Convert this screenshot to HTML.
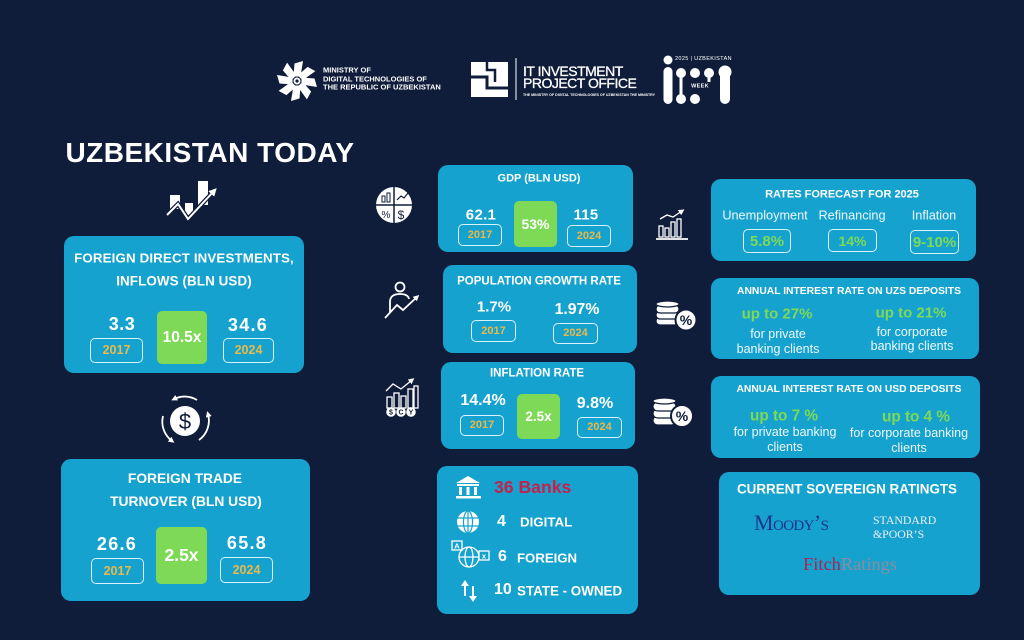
<!DOCTYPE html>
<html><head><meta charset="utf-8">
<style>
html,body{margin:0;padding:0}
body{width:1024px;height:640px;overflow:hidden;background:#0f1c3a;position:relative;font-family:"Liberation Sans",sans-serif}
.card{position:absolute;background:#16a2ce;border-radius:10px}
.c{position:absolute;transform:translate(-50%,-50%);line-height:1;white-space:nowrap;font-weight:700;color:#fff}
.l{position:absolute;transform:translateY(-50%);line-height:1;white-space:nowrap;font-weight:700;color:#fff}
.r{font-weight:400;color:#eef8fc}
.yb{position:absolute;box-sizing:border-box;border:1.2px solid #d9f1fa;border-radius:5px;color:#e8ba4b;font-weight:700;display:flex;align-items:center;justify-content:center;line-height:1}
.gb{position:absolute;background:#7ed957;border-radius:5px;color:#fff;font-weight:700;display:flex;align-items:center;justify-content:center;line-height:1}
.gt{color:#7ed957}
svg{position:absolute;left:0;top:0}
</style></head><body>

<!-- cards -->
<div class="card" style="left:64px;top:236px;width:240px;height:137px"></div>
<div class="card" style="left:61px;top:459px;width:249px;height:142px"></div>
<div class="card" style="left:438px;top:165px;width:195px;height:87px"></div>
<div class="card" style="left:443px;top:265px;width:194px;height:88px"></div>
<div class="card" style="left:441px;top:362px;width:194px;height:87px"></div>
<div class="card" style="left:437px;top:466px;width:201px;height:148px"></div>
<div class="card" style="left:711px;top:179px;width:265px;height:82px"></div>
<div class="card" style="left:711px;top:278px;width:268px;height:81px"></div>
<div class="card" style="left:711px;top:376px;width:269px;height:82px"></div>
<div class="card" style="left:719px;top:472px;width:261px;height:123px"></div>

<svg width="1024" height="640" viewBox="0 0 1024 640">
<defs>
<marker id="ah" markerWidth="6" markerHeight="6" refX="3" refY="3" orient="auto" markerUnits="userSpaceOnUse"><path d="M0,0 L6,3 L0,6 Z" fill="#fff"/></marker>
<marker id="ah2" markerWidth="8" markerHeight="8" refX="4" refY="4" orient="auto" markerUnits="userSpaceOnUse"><path d="M0,0 L8,4 L0,8 Z" fill="#fff"/></marker>
</defs>
<!-- ministry logo -->
<g transform="translate(297,81)" fill="#fff">
<path d="M-3.5,-4.5 L3.5,-4.5 L6,-20 L-2.5,-17.5 Z"/>
<path d="M-3.5,-4.5 L3.5,-4.5 L6,-20 L-2.5,-17.5 Z" transform="rotate(45)"/>
<path d="M-3.5,-4.5 L3.5,-4.5 L6,-20 L-2.5,-17.5 Z" transform="rotate(90)"/>
<path d="M-3.5,-4.5 L3.5,-4.5 L6,-20 L-2.5,-17.5 Z" transform="rotate(135)"/>
<path d="M-3.5,-4.5 L3.5,-4.5 L6,-20 L-2.5,-17.5 Z" transform="rotate(180)"/>
<path d="M-3.5,-4.5 L3.5,-4.5 L6,-20 L-2.5,-17.5 Z" transform="rotate(225)"/>
<path d="M-3.5,-4.5 L3.5,-4.5 L6,-20 L-2.5,-17.5 Z" transform="rotate(270)"/>
<path d="M-3.5,-4.5 L3.5,-4.5 L6,-20 L-2.5,-17.5 Z" transform="rotate(315)"/>
<circle r="3.5" fill="#fff"/><circle r="1.6" fill="#0f1c3a"/>
</g>
<!-- IT IPO logo -->
<rect x="471" y="62" width="37" height="35" fill="#fff"/>
<polyline points="471,77 487,77 487,88 508,88" fill="none" stroke="#0f1c3a" stroke-width="3"/>
<polyline points="487,62 487,70 495,70 495,82" fill="none" stroke="#0f1c3a" stroke-width="2.5"/>
<line x1="516" y1="58" x2="516" y2="100" stroke="#fff" stroke-width="1"/>
<!-- IT week logo -->
<g fill="#fff">
<circle cx="668" cy="60" r="4.5"/>
<rect x="663.5" y="67" width="9" height="37" rx="4.5"/>
<circle cx="681" cy="73" r="5"/>
<circle cx="681" cy="99" r="5"/>
<rect x="679.5" y="73" width="3" height="26"/>
<circle cx="695" cy="73" r="5"/>
<circle cx="709" cy="73" r="5"/>
<circle cx="725" cy="72" r="6.5"/>
<rect x="720" y="70" width="10" height="34" rx="5"/>
<circle cx="695" cy="99" r="5"/>
<rect x="707.5" y="73" width="3" height="9"/>
</g>
<!-- trend icon -->
<g fill="#fff">
<rect x="170" y="195" width="10" height="14"/>
<rect x="185" y="203" width="8" height="12"/>
<rect x="198" y="181" width="10" height="24"/>
</g>
<polyline points="167,215 178,204 188,219 214,191" fill="none" stroke="#0f1c3a" stroke-width="4.5"/>
<polyline points="167,215 178,204 188,219 214,191" fill="none" stroke="#fff" stroke-width="2" marker-end="url(#ah2)"/>
<!-- dollar icon -->
<circle cx="185" cy="421" r="15" fill="#fff"/>
<text x="185" y="429" text-anchor="middle" font-family="Liberation Sans" font-size="22" fill="#0f1c3a">$</text>
<path d="M197,400 A24,24 0 0 0 174,399" fill="none" stroke="#fff" stroke-width="1.8" marker-end="url(#ah)"/>
<path d="M199,440 A24,24 0 0 0 208,414" fill="none" stroke="#fff" stroke-width="1.8" marker-end="url(#ah)"/>
<path d="M163,416 A24,24 0 0 0 172,441" fill="none" stroke="#fff" stroke-width="1.8" marker-end="url(#ah)"/>
<!-- GDP icon -->
<circle cx="394" cy="205" r="18" fill="#fff"/>
<line x1="376" y1="205" x2="412" y2="205" stroke="#0f1c3a" stroke-width="1.5"/>
<line x1="394" y1="187" x2="394" y2="223" stroke="#0f1c3a" stroke-width="1.5"/>
<rect x="382" y="196" width="3" height="6" fill="none" stroke="#0f1c3a" stroke-width="1"/>
<rect x="387" y="193" width="3" height="9" fill="none" stroke="#0f1c3a" stroke-width="1"/>
<polyline points="397,200 401,196 404,198 408,193" fill="none" stroke="#0f1c3a" stroke-width="1.2"/>
<text x="386" y="218" text-anchor="middle" font-family="Liberation Sans" font-size="10" fill="#0f1c3a">%</text>
<text x="401" y="219" text-anchor="middle" font-family="Liberation Sans" font-size="12" fill="#0f1c3a">$</text>
<!-- population icon -->
<g fill="none" stroke="#fff" stroke-width="1.8">
<circle cx="400" cy="287" r="4.5"/>
<path d="M390,312 L390,302 Q390,294 400,294 Q408,294 409,299"/>
<polyline points="385,318 397,305 403,310 417,297" marker-end="url(#ah)"/>
</g>
<!-- inflation icon -->
<g fill="none" stroke="#fff" stroke-width="1.3">
<polyline points="386,391 393,384 401,389 412,380" marker-end="url(#ah)"/>
<rect x="387" y="397" width="5" height="11"/>
<rect x="394" y="393" width="5" height="15"/>
<rect x="401" y="396" width="5" height="12"/>
<rect x="408" y="389" width="5" height="19"/>
<rect x="414" y="386" width="4" height="22"/>
</g>
<g fill="#fff"><circle cx="391" cy="412" r="4.8"/><circle cx="401" cy="412" r="4.8"/><circle cx="411" cy="412" r="4.8"/></g>
<g font-family="Liberation Sans" font-size="7" font-weight="700" fill="#0f1c3a" text-anchor="middle"><text x="391" y="414.5">$</text><text x="401" y="414.5">C</text><text x="411" y="414.5">Y</text></g>
<!-- right chart icon -->
<g fill="none" stroke="#fff" stroke-width="1.3">
<polyline points="660,219 667,215 673,217 682,211" marker-end="url(#ah)"/>
<rect x="659" y="226" width="4" height="11"/>
<rect x="665" y="228" width="4" height="9"/>
<rect x="671" y="222" width="4" height="15"/>
<rect x="677" y="219" width="4" height="18"/>
<line x1="656" y1="239" x2="688" y2="239" stroke-width="1.8"/>
</g>
<!-- coins icon 1 -->
<g fill="#fff" stroke="#0f1c3a" stroke-width="1.2">
<rect x="656" y="317" width="23" height="8" rx="4"/>
<rect x="656" y="311" width="23" height="8" rx="4"/>
<rect x="656" y="305" width="23" height="8" rx="4"/>
<ellipse cx="667.5" cy="304" rx="11.5" ry="3"/>
<circle cx="686" cy="320" r="10.5" stroke-width="2"/>
</g>
<text x="686" y="325" text-anchor="middle" font-family="Liberation Sans" font-size="14" font-weight="700" fill="#0f1c3a">%</text>
<!-- coins icon 2 -->
<g fill="#fff" stroke="#0f1c3a" stroke-width="1.2">
<rect x="653" y="416" width="23" height="9" rx="4.5"/>
<rect x="653" y="409" width="23" height="9" rx="4.5"/>
<rect x="653" y="402" width="23" height="9" rx="4.5"/>
<ellipse cx="664.5" cy="401" rx="11.5" ry="3"/>
<circle cx="682" cy="416" r="11" stroke-width="2"/>
</g>
<text x="682" y="421" text-anchor="middle" font-family="Liberation Sans" font-size="14" font-weight="700" fill="#0f1c3a">%</text>
<!-- bank icon -->
<g fill="#fff">
<path d="M456,483 L468,476 L480,483 Z"/>
<rect x="457" y="484" width="22" height="2"/>
<rect x="459" y="487" width="3" height="8"/>
<rect x="466.5" y="487" width="3" height="8"/>
<rect x="474" y="487" width="3" height="8"/>
<rect x="456" y="496" width="25" height="2.5"/>
</g>
<!-- globe icon -->
<circle cx="468" cy="522" r="11" fill="#fff"/>
<g fill="none" stroke="#16a2ce" stroke-width="1.2">
<ellipse cx="468" cy="522" rx="4.5" ry="11"/>
<line x1="468" y1="511" x2="468" y2="533"/>
<line x1="457" y1="518" x2="479" y2="518"/>
<line x1="457" y1="526" x2="479" y2="526"/>
</g>
<!-- foreign icon -->
<g fill="none" stroke="#fff" stroke-width="1.3">
<circle cx="469" cy="557" r="10"/>
<ellipse cx="469" cy="557" rx="4" ry="10"/>
<line x1="459" y1="557" x2="479" y2="557"/>
<rect x="452" y="541" width="10" height="9" fill="#16a2ce"/>
<rect x="479" y="551" width="10" height="9" fill="#16a2ce"/>
</g>
<text x="457" y="548.5" text-anchor="middle" font-family="Liberation Sans" font-size="7.5" font-weight="700" fill="#fff">A</text>
<text x="484" y="558.5" text-anchor="middle" font-family="Liberation Sans" font-size="7.5" font-weight="700" fill="#fff">x</text>
<!-- arrows icon -->
<g stroke="#fff" stroke-width="2" fill="#fff">
<line x1="465" y1="596" x2="465" y2="585"/>
<path d="M461,586 L465,580 L469,586 Z" stroke-width="0"/>
<line x1="473" y1="586" x2="473" y2="597"/>
<path d="M469,596 L473,602 L477,596 Z" stroke-width="0"/>
</g>
</svg>

<!-- header text -->
<div class="l" style="left:323px;top:70px;font-size:7.5px">MINISTRY OF</div>
<div class="l" style="left:323px;top:78.5px;font-size:7.5px">DIGITAL TECHNOLOGIES OF</div>
<div class="l" style="left:323px;top:87px;font-size:7.5px">THE REPUBLIC OF UZBEKISTAN</div>
<div class="l" style="left:523px;top:71px;font-size:14px;font-weight:400;letter-spacing:-0.5px;-webkit-text-stroke:0.3px #fff">IT INVESTMENT</div>
<div class="l" style="left:523px;top:83px;font-size:14px;font-weight:400;letter-spacing:-0.5px;-webkit-text-stroke:0.3px #fff">PROJECT OFFICE</div>
<div class="l" style="left:523px;top:96px;font-size:3.6px;font-weight:700">THE MINISTRY OF DIGITAL TECHNOLOGIES OF UZBEKISTAN THE MINISTRY</div>
<div class="l" style="left:675px;top:60px;font-size:5.6px;font-weight:400;letter-spacing:0.3px">2025 | UZBEKISTAN</div>
<div class="c" style="left:700px;top:87px;font-size:5.5px;color:#fff;letter-spacing:0.3px">WEEK</div>

<!-- title -->
<div class="c" style="left:210px;top:153px;font-size:28px;letter-spacing:0.5px">UZBEKISTAN TODAY</div>

<!-- FDI -->
<div class="c" style="left:184px;top:258px;font-size:13.3px;letter-spacing:0.15px">FOREIGN DIRECT INVESTMENTS,</div>
<div class="c" style="left:184px;top:281px;font-size:13.4px;letter-spacing:0.1px">INFLOWS (BLN USD)</div>
<div class="c" style="left:122px;top:324px;font-size:18px;letter-spacing:0.5px">3.3</div>
<div class="yb" style="left:90px;top:338px;width:53px;height:25px;font-size:12.5px">2017</div>
<div class="gb" style="left:157px;top:311px;width:50px;height:53px;font-size:15.5px">10.5x</div>
<div class="c" style="left:248px;top:325px;font-size:18px;letter-spacing:1.3px">34.6</div>
<div class="yb" style="left:223px;top:338px;width:51px;height:25px;font-size:12.5px">2024</div>

<!-- FTT -->
<div class="c" style="left:185px;top:479px;font-size:13.8px">FOREIGN TRADE</div>
<div class="c" style="left:186px;top:502px;font-size:13.8px">TURNOVER (BLN USD)</div>
<div class="c" style="left:117px;top:544px;font-size:18px;letter-spacing:1.3px">26.6</div>
<div class="yb" style="left:91px;top:558px;width:53px;height:26px;font-size:12.5px">2017</div>
<div class="gb" style="left:156px;top:527px;width:51px;height:57px;font-size:17.5px">2.5x</div>
<div class="c" style="left:247px;top:543px;font-size:18px;letter-spacing:1.3px">65.8</div>
<div class="yb" style="left:220px;top:557px;width:53px;height:26px;font-size:12.5px">2024</div>

<!-- GDP -->
<div class="c" style="left:539px;top:179px;font-size:11px">GDP (BLN USD)</div>
<div class="c" style="left:481px;top:215px;font-size:15px;letter-spacing:0.3px">62.1</div>
<div class="yb" style="left:458px;top:224px;width:44px;height:22px;font-size:11px">2017</div>
<div class="gb" style="left:514px;top:201px;width:43px;height:46px;font-size:14px">53%</div>
<div class="c" style="left:586px;top:215px;font-size:15px;letter-spacing:0.3px">115</div>
<div class="yb" style="left:567px;top:225px;width:44px;height:22px;font-size:11px">2024</div>

<!-- Population -->
<div class="c" style="left:539px;top:282px;font-size:11.5px">POPULATION GROWTH RATE</div>
<div class="c" style="left:494px;top:307px;font-size:15px">1.7%</div>
<div class="yb" style="left:471px;top:320px;width:45px;height:22px;font-size:11px">2017</div>
<div class="c" style="left:577px;top:310px;font-size:15.8px">1.97%</div>
<div class="yb" style="left:553px;top:323px;width:45px;height:21px;font-size:11px">2024</div>

<!-- Inflation -->
<div class="c" style="left:537px;top:374px;font-size:11.5px">INFLATION RATE</div>
<div class="c" style="left:483px;top:401px;font-size:16px">14.4%</div>
<div class="yb" style="left:460px;top:415px;width:44px;height:21px;font-size:11px">2017</div>
<div class="gb" style="left:517px;top:394px;width:43px;height:45px;font-size:13.5px">2.5x</div>
<div class="c" style="left:595px;top:404px;font-size:16px">9.8%</div>
<div class="yb" style="left:577px;top:417px;width:45px;height:21px;font-size:11px">2024</div>

<!-- Banks -->
<div class="l" style="left:494px;top:488px;font-size:17.6px;color:#c4214c">36 Banks</div>
<div class="l" style="left:497px;top:522px;font-size:16px">4</div>
<div class="l" style="left:520px;top:522px;font-size:13.3px">DIGITAL</div>
<div class="l" style="left:498px;top:557px;font-size:16px">6</div>
<div class="l" style="left:517px;top:558px;font-size:13.2px">FOREIGN</div>
<div class="l" style="left:494px;top:590px;font-size:16px">10</div>
<div class="l" style="left:517px;top:591px;font-size:13.4px">STATE - OWNED</div>

<!-- Rates forecast -->
<div class="c" style="left:842px;top:195px;font-size:11px">RATES FORECAST FOR 2025</div>
<div class="c r" style="left:765px;top:216px;font-size:12.7px">Unemployment</div>
<div class="c r" style="left:852px;top:216px;font-size:12.7px">Refinancing</div>
<div class="c r" style="left:934px;top:216px;font-size:12.7px">Inflation</div>
<div class="yb gt" style="left:743px;top:229px;width:48px;height:24px;font-size:15px">5.8%</div>
<div class="yb gt" style="left:828px;top:229px;width:49px;height:23px;font-size:14px">14%</div>
<div class="yb gt" style="left:910px;top:230px;width:49px;height:24px;font-size:15px">9-10%</div>

<!-- UZS -->
<div class="c" style="left:849px;top:292px;font-size:10.3px">ANNUAL INTEREST RATE ON UZS DEPOSITS</div>
<div class="c gt" style="left:777px;top:314px;font-size:15px">up to 27%</div>
<div class="c r" style="left:778px;top:334px;font-size:12.5px">for private</div>
<div class="c r" style="left:778px;top:349px;font-size:12.5px">banking clients</div>
<div class="c gt" style="left:911px;top:313px;font-size:15px">up to 21%</div>
<div class="c r" style="left:912px;top:332px;font-size:12.5px">for corporate</div>
<div class="c r" style="left:912px;top:346px;font-size:12.5px">banking clients</div>

<!-- USD -->
<div class="c" style="left:849px;top:390px;font-size:10.3px">ANNUAL INTEREST RATE ON USD DEPOSITS</div>
<div class="c gt" style="left:784px;top:416px;font-size:15.3px">up to 7 %</div>
<div class="c r" style="left:785px;top:432px;font-size:12.5px">for private banking</div>
<div class="c r" style="left:785px;top:447px;font-size:12.5px">clients</div>
<div class="c gt" style="left:916px;top:417px;font-size:15.3px">up to 4 %</div>
<div class="c r" style="left:909px;top:433px;font-size:12.5px">for corporate banking</div>
<div class="c r" style="left:909px;top:448px;font-size:12.5px">clients</div>

<!-- Ratings -->
<div class="c" style="left:847px;top:489px;font-size:13.4px">CURRENT SOVEREIGN RATINGTS</div>
<div class="l" style="left:754px;top:523px;font-size:22px;font-weight:400;font-family:'Liberation Serif',serif;font-variant:small-caps;color:#1a3490;letter-spacing:-0.6px">Moody’s</div>
<div class="l" style="left:873px;top:521px;font-size:11.8px;font-weight:400;font-family:'Liberation Serif',serif;color:#eaf0f6">STANDARD</div>
<div class="l" style="left:873px;top:535px;font-size:11.8px;font-weight:400;font-family:'Liberation Serif',serif;color:#eaf0f6">&amp;POOR’S</div>
<div class="l" style="left:803px;top:564px;font-size:18.4px;font-weight:400;font-family:'Liberation Serif',serif"><span style="color:#a82550">Fitch</span><span style="color:#8a8d9c">Ratings</span></div>

</body></html>
